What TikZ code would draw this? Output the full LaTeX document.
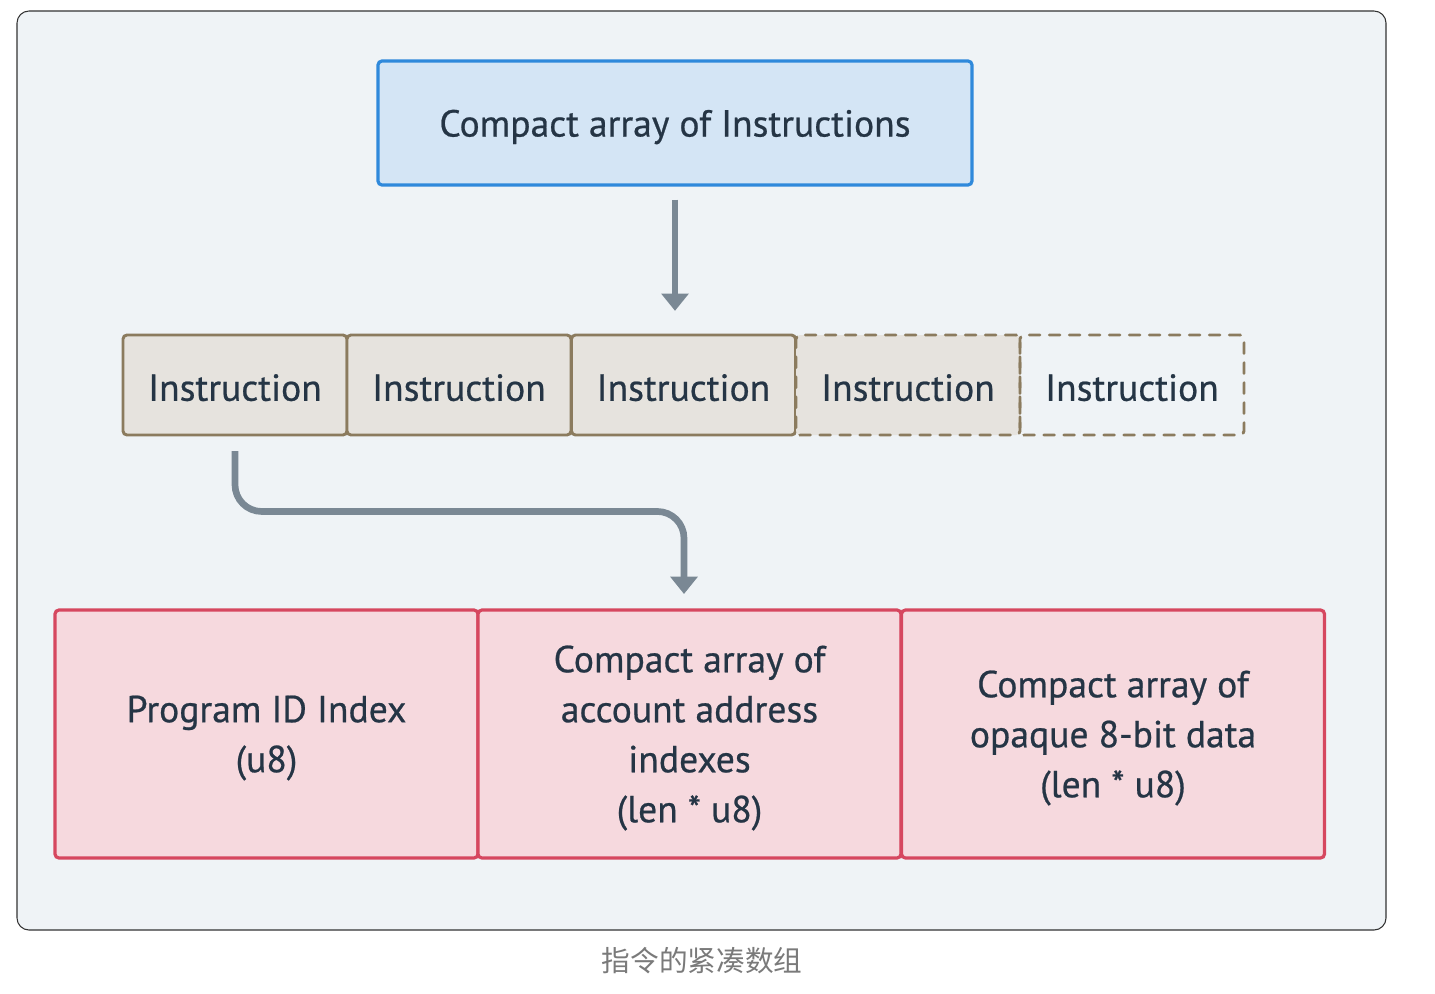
\documentclass[tikz,border=0pt]{standalone}
\usepackage{fontspec}
\setmainfont{PT Sans}[FakeBold=0.6]
\newfontfamily\cjk{Noto Sans CJK SC}
\usetikzlibrary{arrows.meta}
\definecolor{bgc}{HTML}{EFF3F6}
\definecolor{framec}{HTML}{333333}
\definecolor{txtc}{HTML}{253545}
\definecolor{bluel}{HTML}{2F89DB}
\definecolor{bluef}{HTML}{D4E5F5}
\definecolor{brownl}{HTML}{8B7B5E}
\definecolor{brownf}{HTML}{E6E3DE}
\definecolor{redl}{HTML}{D6475F}
\definecolor{redf}{HTML}{F6D9DE}
\definecolor{arrc}{HTML}{7A8894}
\definecolor{capc}{HTML}{7A7A7A}
\tikzset{
  lbl/.style={text=txtc, font=\fontsize{28.2}{37.5}\selectfont, align=center, inner sep=0pt},
  topbox/.style={draw=bluel, fill=bluef, line width=2.4pt, rounded corners=3pt, minimum width=445.5pt, minimum height=93pt},
  instbox/.style={draw=brownl, fill=brownf, line width=2.2pt, rounded corners=3pt, minimum width=168pt, minimum height=75pt},
  instdash/.style={instbox, dash pattern=on 8pt off 7pt, line cap=round},
  botbox/.style={draw=redl, fill=redf, line width=2.4pt, rounded corners=3pt, minimum width=317.25pt, minimum height=186pt},
  conn/.style={draw=arrc, line width=5pt, -{Triangle[width=20pt,length=13pt]}}
}
\begin{document}
\begin{tikzpicture}[x=0.75pt,y=-0.75pt]
\useasboundingbox (0,0) rectangle (1435,993);
\draw[rounded corners=9pt, fill=bgc, draw=framec, line width=0.8pt] (17,11) rectangle (1386,930);

\node[topbox] (top) at (675,123) {};
\node[lbl] (topt) at ([yshift=-3pt]top.center) {Compact array of Instructions};

\node[instbox] (i1) at (235,385) {};
\node[instbox] (i2) at (459,385) {};
\node[instbox] (i3) at (683.5,385) {};
\node[instdash] (i4) at (908,385) {};
\node[instdash, fill=none] (i5) at (1132,385) {};
\foreach \n in {i1,i2,i3,i4,i5}
  \node[lbl] (\n t) at ([yshift=-2pt]\n.center) {Instruction};

\node[botbox] (b1) at (266.5,734) {};
\node[botbox] (b2) at (689.5,734) {};
\node[botbox] (b3) at (1113,734) {};
\node[lbl] (b1t) at ([yshift=-3pt]b1.center) {Program ID Index\\(u8)};
\node[lbl] (b2t) at ([yshift=-3pt]b2.center) {Compact array of\\account address\\indexes\\(len * u8)};
\node[lbl] (b3t) at ([yshift=-3pt]b3.center) {Compact array of\\opaque 8-bit data\\(len * u8)};

\draw[conn, shorten <=9.75pt, shorten >=17pt] (top.south) -- (top.south |- i3.north);
\coordinate (t2) at (684,610);
\draw[conn, rounded corners=20pt, shorten <=11pt, shorten >=12pt] (i1.south) -- ++(0,75) -| (t2);

\node[text=capc, font=\cjk\fontsize{21.5}{26}\selectfont, inner sep=0pt] (cap) at (702,961) {指令的紧凑数组};
\end{tikzpicture}
\end{document}
